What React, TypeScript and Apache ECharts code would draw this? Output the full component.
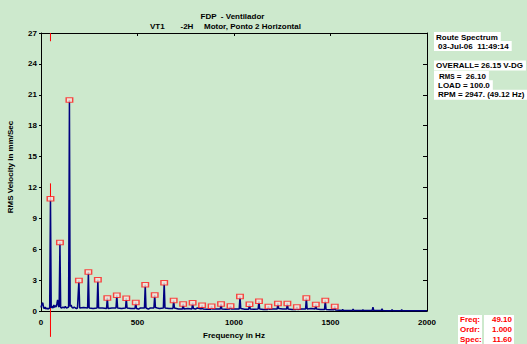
import React, { useEffect, useRef } from "react";
import * as echarts from "echarts";

// ---- data ----
const peakHz = [49.1, 98.2, 147.3, 196.4, 245.5, 294.6, 343.7, 392.8, 441.9, 491, 540.1, 589.2, 638.3, 687.4, 736.5, 785.6, 834.7, 883.8, 932.9, 982, 1031.1, 1080.2, 1129.3, 1178.4, 1227.5, 1276.6, 1325.7, 1374.8, 1423.9, 1473, 1522.1];
const peakAmp = [10.9, 6.65, 20.5, 2.97, 3.8, 3.04, 1.28, 1.54, 1.25, 0.83, 2.56, 1.56, 2.75, 1.03, 0.7, 0.8, 0.56, 0.46, 0.7, 0.5, 1.41, 0.67, 0.96, 0.45, 0.74, 0.74, 0.41, 1.28, 0.64, 1.03, 0.45];

// spectrum line: [Hz, mm/s]
const spectrumLow: [number, number][] = [
  [0, 0.35], [3, 0.55], [7, 0.8], [10, 0.75], [13, 0.35], [17, 0.25], [21, 0.4], [25, 0.2], [30, 0.3], [35, 0.2], [40, 0.25], [45, 0.3],
  [49.1, 10.9], [53, 0.3], [57, 0.45], [62, 0.3], [66, 0.6], [70, 0.35], [74, 0.55], [78, 0.4], [82, 0.7], [86, 1.1], [90, 0.5], [94, 0.4],
  [98.2, 6.65], [102, 0.35], [108, 0.3], [114, 0.4], [120, 0.3], [126, 0.45], [132, 0.3], [138, 0.35], [143, 0.4],
  [147.3, 20.5], [151, 0.45], [156, 0.6], [161, 0.35], [167, 0.3], [172, 0.4], [178, 0.3], [184, 0.25], [189, 0.3],
];
const spectrumMid: [number, number][] = [
  [192.5, 0.3], [196.4, 2.97], [200.5, 0.3], [221, 0.35],
  [241.5, 0.3], [245.5, 3.8], [249.5, 0.3], [270, 0.25],
  [290.5, 0.3], [294.6, 3.04], [298.5, 0.3], [319, 0.3],
  [339.5, 0.25], [343.7, 1.28], [347.5, 0.25], [368, 0.3],
  [388.5, 0.3], [392.8, 1.54], [397, 0.3], [417, 0.25],
  [438, 0.3], [441.9, 1.25], [446, 0.3], [466, 0.25],
  [487, 0.25], [491, 0.83], [495, 0.25], [505, 0.2], [515, 0.3],
  [536, 0.3], [540.1, 2.56], [544, 0.3], [556, 0.2], [566, 0.3],
  [585, 0.3], [589.2, 1.56], [593, 0.35], [603, 0.3], [614, 0.25],
  [634, 0.3], [638.3, 2.75], [642.5, 0.3], [663, 0.25],
  [683.5, 0.25], [687.4, 1.03], [691.5, 0.3], [712, 0.2],
  [732.5, 0.2], [736.5, 0.7], [740.5, 0.2], [761, 0.25],
  [781.5, 0.2], [785.6, 0.8], [789.5, 0.25], [800, 0.2], [810, 0.3],
  [830.5, 0.2], [834.7, 0.56], [839, 0.2], [859, 0.18],
  [880, 0.18], [883.8, 0.46], [888, 0.2], [908, 0.2],
  [929, 0.2], [932.9, 0.7], [937, 0.2], [957, 0.18],
  [978, 0.2], [982, 0.5], [986, 0.2], [1006, 0.2],
];
const spectrumHigh: [number, number][] = [
  [1027, 0.2], [1031.1, 1.41], [1035, 0.25], [1055, 0.18],
  [1076, 0.18], [1080.2, 0.67], [1084, 0.2], [1104, 0.18],
  [1125, 0.2], [1129.3, 0.96], [1133, 0.2], [1153, 0.15],
  [1174, 0.15], [1178.4, 0.45], [1182, 0.18], [1202, 0.2],
  [1223.5, 0.2], [1227.5, 0.74], [1231.5, 0.25], [1252, 0.2],
  [1272.5, 0.2], [1276.6, 0.74], [1280.5, 0.2], [1301, 0.15],
  [1321.5, 0.15], [1325.7, 0.41], [1330, 0.15], [1350, 0.2],
  [1371, 0.2], [1374.8, 1.28], [1379, 0.2], [1399, 0.25],
  [1420, 0.2], [1423.9, 0.64], [1428, 0.2], [1448, 0.15],
  [1469, 0.15], [1473, 1.03], [1477, 0.15], [1497, 0.12],
  [1518, 0.12], [1522.1, 0.45], [1526, 0.1], [1545, 0.08],
  [1559, 0.06], [1563, 0.15], [1567, 0.06], [1590, 0.05], [1613, 0.06], [1617, 0.2], [1621, 0.06], [1645, 0.05],
  [1664, 0.05], [1668, 0.12], [1672, 0.05], [1695, 0.05], [1716, 0.06], [1720, 0.38], [1724, 0.06], [1745, 0.05],
  [1763, 0.05], [1767, 0.22], [1771, 0.05], [1795, 0.04], [1815, 0.04], [1819, 0.15], [1823, 0.04], [1845, 0.04],
  [1865, 0.04], [1869, 0.12], [1873, 0.04], [1900, 0.03], [1950, 0.03], [2000, 0.03],
];

const xTicks = [0, 500, 1000, 1500, 2000];
const yTicks = [0, 3, 6, 9, 12, 15, 18, 21, 24, 27];

const cursorHz = 49.1;
const cursorTopSeg = [27, 26.2];
const cursorLowSeg = [12.4, -2.5];

const titleLine1 = "FDP  - Ventilador";
const titleParts = ["VT1", "-2H", "Motor, Ponto 2 Horizontal"];
const infoLines = ["Route Spectrum", "03-Jul-06  11:49:14"];
const statLines = ["OVERALL= 26.15 V-DG", "RMS", "LOAD = 100.0", "RPM = 2947. (49.12 Hz)"];
const rmsValue = " =  26.10";
const cursorLabels = ["Freq:", "Ordr:", "Spec:"];
const cursorValues = ["49.10", "1.000", "11.60"];

const FONT = '"Liberation Sans", Arial, sans-serif';
const txt = (size = 8) => ({ fontSize: size, fontWeight: "bold" as const, fontFamily: FONT, fill: "#000" });

export default function App() {
  const ref = useRef<HTMLDivElement>(null);
  useEffect(() => {
    if (!ref.current) return;
    const chart = echarts.init(ref.current, null, { renderer: "svg" });
    const spectrum = [...spectrumLow, ...spectrumMid, ...spectrumHigh];
    const peaks = peakHz.map((f, i) => [f, peakAmp[i]]);
    const axisLineStyle = { color: "#000", width: 1 };
    chart.setOption({
      animation: false,
      backgroundColor: "#cde9cd",
      grid: { left: 41, right: 100, top: 33, bottom: 30 },
      xAxis: [
        {
          type: "value", min: xTicks[0], max: xTicks[xTicks.length - 1], interval: 500, position: "bottom",
          axisLine: { show: true, onZero: false, lineStyle: axisLineStyle },
          axisTick: { show: false }, splitLine: { show: false },
          axisLabel: { margin: 7, fontSize: 8, fontWeight: "bold", fontFamily: FONT, color: "#000", formatter: (v: number) => String(v) },
          name: "Frequency in Hz", nameLocation: "middle", nameGap: 19,
          nameTextStyle: { fontSize: 8, fontWeight: "bold", fontFamily: FONT, color: "#000" },
        },
        {
          type: "value", min: xTicks[0], max: xTicks[xTicks.length - 1], interval: 500, position: "top",
          axisLine: { show: true, onZero: false, lineStyle: axisLineStyle },
          axisTick: { show: true, inside: true, length: 3, lineStyle: axisLineStyle },
          axisLabel: { show: false }, splitLine: { show: false },
        },
      ],
      yAxis: [
        {
          type: "value", min: yTicks[0], max: yTicks[yTicks.length - 1], interval: 3, position: "left",
          axisLine: { show: true, onZero: false, lineStyle: axisLineStyle },
          axisTick: { show: true, length: 2, lineStyle: axisLineStyle }, splitLine: { show: false },
          axisLabel: { margin: 4, padding: [0, 0, 6, 0], fontSize: 8, fontWeight: "bold", fontFamily: FONT, color: "#000", formatter: (v: number) => String(v) },
        },
        {
          type: "value", min: yTicks[0], max: yTicks[yTicks.length - 1], interval: 3, position: "right",
          axisLine: { show: true, onZero: false, lineStyle: axisLineStyle },
          axisTick: { show: true, inside: true, length: 4, lineStyle: axisLineStyle },
          axisLabel: { show: false }, splitLine: { show: false },
        },
      ],
      series: [
        {
          type: "line", data: spectrum, showSymbol: false, xAxisIndex: 0, yAxisIndex: 0,
          lineStyle: { color: "#000080", width: 1.5 }, z: 5,
        },
        {
          type: "scatter", data: peaks, symbol: "rect", symbolSize: [6.5, 4.5], xAxisIndex: 0, yAxisIndex: 0,
          itemStyle: { color: "#f4e4dc", borderColor: "#ff1a1a", borderWidth: 1.2 }, z: 6,
        },
      ],
    });

    const px = (v: number) => chart.convertToPixel({ xAxisIndex: 0, yAxisIndex: 0 }, [cursorHz, v]) as number[];
    const t1 = px(cursorTopSeg[0]), t2 = px(cursorTopSeg[1]);
    const l1 = px(cursorLowSeg[0]), l2 = px(cursorLowSeg[1]);
    const red = "#ff0000";
    const boxed = { backgroundColor: "#fff", padding: [1, 3, 1, 2] };

    chart.setOption({
      graphic: [
        { type: "line", shape: { x1: t1[0], y1: t1[1], x2: t2[0], y2: t2[1] }, style: { stroke: red, lineWidth: 1 }, z: 1 },
        { type: "line", shape: { x1: l1[0], y1: l1[1], x2: l2[0], y2: l2[1] }, style: { stroke: red, lineWidth: 1 }, z: 1 },
        { type: "text", x: 232.5, y: 16, style: { ...txt(), text: titleLine1, align: "center", verticalAlign: "middle" } },
        { type: "text", x: 150, y: 26, style: { ...txt(), text: titleParts[0], align: "left", verticalAlign: "middle" } },
        { type: "text", x: 180.5, y: 26, style: { ...txt(), text: titleParts[1], align: "left", verticalAlign: "middle" } },
        { type: "text", x: 204, y: 26, style: { ...txt(), text: titleParts[2], align: "left", verticalAlign: "middle" } },
        { type: "text", x: 10.5, y: 167, rotation: Math.PI / 2, style: { ...txt(), text: "RMS Velocity in mm/Sec", align: "center", verticalAlign: "middle" } },
        { type: "text", x: 434, y: 37, style: { ...txt(), ...boxed, text: infoLines[0], align: "left", verticalAlign: "middle" } },
        { type: "text", x: 434, y: 46, style: { ...txt(), ...boxed, padding: [1, 3, 1, 4], text: infoLines[1], align: "left", verticalAlign: "middle" } },
        { type: "text", x: 434, y: 65.5, style: { ...txt(), ...boxed, text: statLines[0], align: "left", verticalAlign: "middle" } },
        {
          type: "text", x: 434, y: 76,
          style: {
            ...txt(), ...boxed, padding: [1, 3, 1, 5], align: "left", verticalAlign: "middle",
            text: "{a|R}{b|MS}{a|" + rmsValue + "}",
            rich: { a: { fontSize: 8, fontWeight: "bold", fontFamily: FONT, fill: "#000" }, b: { fontSize: 6.5, fontWeight: "bold", fontFamily: FONT, fill: "#000" } },
          },
        },
        { type: "text", x: 434, y: 85.3, style: { ...txt(), ...boxed, padding: [1, 3, 1, 4], text: statLines[2], align: "left", verticalAlign: "middle" } },
        { type: "text", x: 434, y: 94.7, style: { ...txt(), ...boxed, padding: [1, 6, 1, 4], text: statLines[3], align: "left", verticalAlign: "middle" } },
        { type: "rect", shape: { x: 458, y: 315, width: 24, height: 29 }, style: { fill: "#fff" } },
        { type: "rect", shape: { x: 484, y: 315, width: 30, height: 29 }, style: { fill: "#fff" } },
        ...cursorLabels.map((s, i) => ({
          type: "text", x: 460, y: 319.7 + i * 9.8, z: 20,
          style: { ...txt(), fill: red, text: s, align: "left", verticalAlign: "middle" },
        })),
        ...cursorValues.map((s, i) => ({
          type: "text", x: 512, y: 319.7 + i * 9.8, z: 20,
          style: { ...txt(), fill: red, text: s, align: "right", verticalAlign: "middle" },
        })),
      ],
    });
    return () => chart.dispose();
  }, []);
  return <div ref={ref} style={{ position: "fixed", left: 0, top: 0, width: 527, height: 344 }} />;
}
